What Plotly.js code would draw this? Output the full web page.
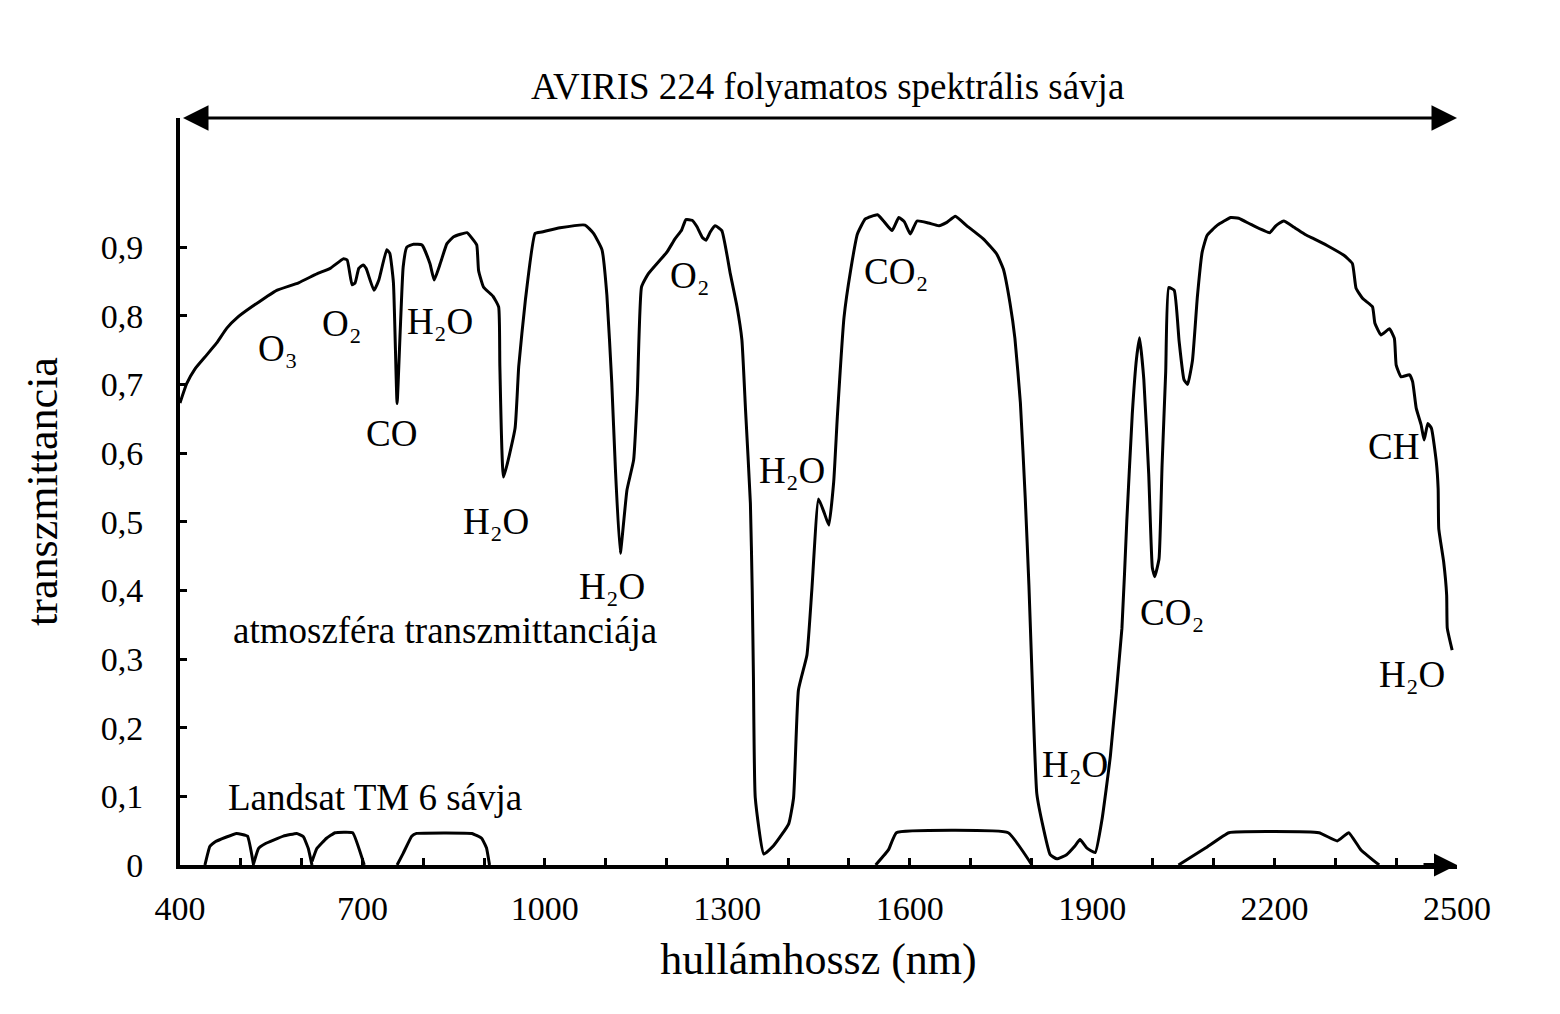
<!DOCTYPE html>
<html>
<head>
<meta charset="utf-8">
<script src="https://cdn.plot.ly/plotly-3.0.1.min.js"></script>
<style>html,body{margin:0;padding:0;background:#fff;}#chart{width:1560px;height:1014px;}</style>
</head>
<body>
<div id="chart"></div>
<script>
// Atmospheric transmittance curve (wavelength in nm, transmittance 0..1)
const wavelengthNm = [400,411,425,444,460,477,495,518,543,559,595,625,647,669,675,683,688,694,701,706,719,727,740,745,751,757,762,767,773,784,798,811,818,828,839,850,872,880,888,891,899,915,924,926,932,951,957,968,984,995,1025,1066,1080,1094,1102,1110,1116,1124,1135,1146,1152,1159,1170,1201,1214,1225,1232,1242,1250,1259,1265,1272,1280,1291,1305,1316,1324,1330,1338,1341,1343,1346,1360,1376,1401,1409,1417,1431,1439,1450,1459,1467,1475,1481,1492,1503,1514,1527,1547,1557,1571,1582,1591,1601,1612,1631,1648,1661,1675,1694,1721,1743,1754,1765,1773,1782,1790,1796,1801,1809,1820,1831,1842,1858,1872,1880,1891,1905,1916,1930,1949,1957,1966,1973,1978,1985,1993,1999,2003,2010,2015,2021,2026,2035,2043,2051,2057,2065,2073,2081,2089,2106,2128,2141,2161,2192,2202,2215,2232,2251,2265,2287,2314,2328,2334,2345,2361,2365,2375,2389,2397,2400,2408,2422,2427,2433,2441,2446,2452,2458,2466,2469,2470,2478,2483,2484,2492];
const transmittance = [0.673,0.701,0.723,0.743,0.760,0.782,0.798,0.813,0.828,0.837,0.848,0.861,0.869,0.883,0.881,0.845,0.848,0.869,0.874,0.869,0.837,0.852,0.896,0.891,0.848,0.672,0.775,0.871,0.900,0.904,0.903,0.876,0.852,0.876,0.905,0.915,0.921,0.913,0.903,0.866,0.842,0.828,0.813,0.726,0.565,0.636,0.726,0.823,0.920,0.922,0.928,0.932,0.920,0.896,0.830,0.703,0.577,0.454,0.546,0.590,0.684,0.842,0.861,0.893,0.912,0.925,0.940,0.939,0.930,0.914,0.910,0.922,0.931,0.924,0.861,0.813,0.765,0.663,0.527,0.400,0.274,0.098,0.016,0.028,0.060,0.098,0.255,0.306,0.400,0.533,0.514,0.495,0.558,0.653,0.798,0.867,0.919,0.941,0.947,0.938,0.924,0.943,0.937,0.919,0.938,0.935,0.931,0.936,0.945,0.931,0.912,0.890,0.868,0.818,0.767,0.673,0.534,0.408,0.281,0.104,0.053,0.015,0.009,0.015,0.028,0.037,0.025,0.018,0.065,0.159,0.345,0.501,0.657,0.738,0.768,0.707,0.570,0.433,0.420,0.446,0.582,0.719,0.841,0.837,0.763,0.707,0.700,0.735,0.827,0.893,0.917,0.932,0.943,0.942,0.933,0.921,0.931,0.938,0.929,0.918,0.912,0.902,0.888,0.876,0.840,0.825,0.813,0.789,0.772,0.781,0.767,0.728,0.711,0.714,0.704,0.665,0.641,0.619,0.643,0.636,0.587,0.548,0.490,0.442,0.393,0.345,0.313];

// Landsat TM band response outlines (null separates bands)
const landsatNm = [441,449,458,493,511,521,null,521,529,540,570,592,603,611,617,null,617,625,641,655,684,703,null,757,767,781,789,880,896,904,909,null,1544,1565,1578,1762,1801,null,2042,2087,2125,2273,2303,2322,2342,2372];
const landsatT  = [0,0.027,0.034,0.046,0.042,0,null,0.002,0.024,0.031,0.042,0.046,0.041,0.024,0,null,0.005,0.024,0.039,0.047,0.047,0,null,0,0.017,0.042,0.046,0.046,0.039,0.025,0,null,0,0.022,0.047,0.047,0,null,0,0.025,0.047,0.047,0.035,0.047,0.022,0];

// Axis ticks (labelled every 300 nm, tick marks every 100 nm)
const xTickVals = [400,700,1000,1300,1600,1900,2200,2500];
const xTickText = ['400','700','1000','1300','1600','1900','2200','2500'];
const yTickVals = [0,0.1,0.2,0.3,0.4,0.5,0.6,0.7,0.8,0.9];
const yTickText = ['0','0,1','0,2','0,3','0,4','0,5','0,6','0,7','0,8','0,9'];

// Absorption labels
const absLabels = ['O\u2083','O\u2082','H\u2082O','CO','H\u2082O','H\u2082O','O\u2082','H\u2082O','CO\u2082','CO\u2082','H\u2082O','CH','H\u2082O'];
const absLabelNm = [561,666,828,747,920,1110,1239,1406,1577,2031,1872,2395,2426];
const absLabelT  = [0.753,0.789,0.791,0.629,0.501,0.405,0.858,0.574,0.865,0.368,0.147,0.609,0.277];

const FONT = 'Liberation Serif, Times New Roman, serif';

const traces = [
  {x: wavelengthNm, y: transmittance, mode: 'lines', type: 'scatter',
   line: {color: '#000', width: 3, shape: 'spline', smoothing: 0.4}, hoverinfo: 'skip'},
  {x: landsatNm, y: landsatT, mode: 'lines', type: 'scatter', connectgaps: false,
   line: {color: '#000', width: 3, shape: 'spline', smoothing: 0.3}, hoverinfo: 'skip'}
];

const annotations = absLabels.map((t, i) => ({
  x: absLabelNm[i], y: absLabelT[i], xref: 'x', yref: 'y', text: t, showarrow: false,
  font: {family: FONT, size: 37, color: '#000'}, xanchor: 'center', yanchor: 'middle'
}));

annotations.push(
  {x: 1464, y: 1.0415, xref: 'x', yref: 'paper', text: 'AVIRIS 224 folyamatos spektrális sávja', showarrow: false,
   font: {family: FONT, size: 37, color: '#000'}, xanchor: 'center', yanchor: 'middle'},
  {x: 836, y: 0.342, xref: 'x', yref: 'y', text: 'atmoszféra transzmittanciája', showarrow: false,
   font: {family: FONT, size: 37, color: '#000'}, xanchor: 'center', yanchor: 'middle'},
  {x: 721, y: 0.099, xref: 'x', yref: 'y', text: 'Landsat TM 6 sávja', showarrow: false,
   font: {family: FONT, size: 37, color: '#000'}, xanchor: 'center', yanchor: 'middle'},
  // AVIRIS range double arrow
  {x: 2500, y: 1.088, ax: 400, ay: 1.088, xref: 'x', yref: 'y', axref: 'x', ayref: 'y', text: ' ',
   showarrow: true, arrowhead: 2, startarrowhead: 2, arrowside: 'end+start', arrowsize: 1.7, startarrowsize: 1.7,
   arrowwidth: 3, arrowcolor: '#000', standoff: 0, startstandoff: 0},
  // x-axis arrow head
  {x: 2500, y: 0, ax: 2440, ay: 0, xref: 'x', yref: 'y', axref: 'x', ayref: 'y', text: ' ',
   showarrow: true, arrowhead: 2, arrowsize: 1.15, arrowwidth: 4, arrowcolor: '#000', standoff: 0}
);

const layout = {
  width: 1560, height: 1014,
  margin: {l: 180, r: 103, t: 118, b: 149},
  paper_bgcolor: '#fff', plot_bgcolor: '#fff',
  showlegend: false,
  font: {family: FONT, color: '#000'},
  xaxis: {
    range: [400, 2500], tickvals: xTickVals, ticktext: xTickText,
    ticks: 'inside', ticklen: 7, tickwidth: 3, tickcolor: '#000',
    minor: {dtick: 100, tick0: 400, ticks: 'inside', ticklen: 7, tickwidth: 3, tickcolor: '#000', showgrid: false},
    showline: true, linewidth: 4, linecolor: '#000', mirror: false,
    showgrid: false, zeroline: false, fixedrange: true,
    tickfont: {family: FONT, size: 34, color: '#000'}, ticklabelstandoff: 10,
    title: {text: 'hullámhossz (nm)', font: {family: FONT, size: 44, color: '#000'}, standoff: 18}
  },
  yaxis: {
    range: [0, 1.088], tickvals: yTickVals, ticktext: yTickText,
    ticks: 'inside', ticklen: 7, tickwidth: 3, tickcolor: '#000',
    showline: true, linewidth: 4, linecolor: '#000',
    showgrid: false, zeroline: false, fixedrange: true,
    tickfont: {family: FONT, size: 34, color: '#000'}, ticklabelstandoff: 26,
    title: {text: 'transzmittancia', font: {family: FONT, size: 44, color: '#000'}, standoff: 30}
  },
  annotations: annotations
};

Plotly.newPlot('chart', traces, layout, {staticPlot: true, displayModeBar: false});
</script>
</body>
</html>
